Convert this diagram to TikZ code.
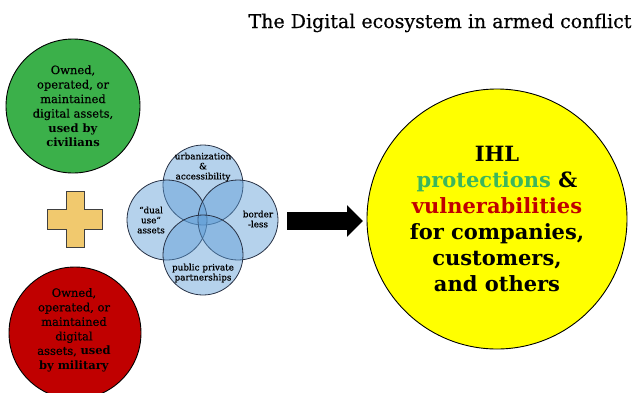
\documentclass[tikz,border=0pt]{standalone}
\usepackage{fontspec}
\setmainfont{DejaVu Serif}[UprightFeatures={FakeBold=0.5}]
\usetikzlibrary{arrows.meta}
\definecolor{civgreen}{RGB}{59,176,74}
\definecolor{milred}{RGB}{192,0,0}
\definecolor{ihlyellow}{RGB}{255,255,0}
\definecolor{plusgold}{RGB}{241,201,110}
\definecolor{vennblue}{RGB}{91,155,213}
\definecolor{venndraw}{RGB}{40,50,70}
\definecolor{protgreen}{RGB}{60,182,92}
\begin{document}
\begin{tikzpicture}[x=1pt,y=-1pt,
  bigdisc/.style={circle, draw=black, line width=0.9pt, inner sep=0pt, align=center},
  vennset/.style={circle, draw=venndraw, line width=0.8pt, fill=vennblue, fill opacity=0.45, draw opacity=1, minimum size=80pt, inner sep=0pt},
  venntext/.style={align=center, font=\fontsize{8.8}{10}\selectfont, inner sep=0pt},
  discfont/.style={font=\fontsize{11.5}{14.5}\selectfont}]
\useasboundingbox (0,0) rectangle (643,392);

% title
\node[font=\fontsize{19}{22}\selectfont, anchor=base] (title) at (440,28) {The Digital ecosystem in armed conflict};

% civilian and military assets
\node[bigdisc, fill=civgreen, minimum size=134pt, discfont] (civ) at (73,106)
  {Owned,\\operated, or\\maintained\\digital assets,\\\textbf{used by}\\\textbf{civilians}};
\node[bigdisc, fill=milred, minimum size=132pt] (mil) at (75,333) {};
\node[discfont, align=center, inner sep=0pt] (miltext) at (74,330)
  {Owned,\\operated, or\\maintained\\digital\\assets, \textbf{used}\\\textbf{by military}};

% plus sign
\node[inner sep=0pt] (plus) at (75,219) {};
\draw[fill=plusgold, draw=black!75, line width=0.8pt]
  (plus) ++(-9,-28) -- ++(18,0) -- ++(0,18) -- ++(18,0) -- ++(0,20) -- ++(-18,0)
  -- ++(0,18) -- ++(-18,0) -- ++(0,-18) -- ++(-19,0) -- ++(0,-20) -- ++(19,0) -- cycle;

% four overlapping features of the ecosystem
\node[vennset] (vtop) at (203,185) {};
\node[vennset] (vleft) at (167,220) {};
\node[vennset] (vright) at (238,220) {};
\node[vennset] (vbot) at (203,255) {};
\node[venntext] (ttop) at (203,167) {urbanization\\\&\\accessibility};
\node[venntext] (tleft) at (151,220) {“dual\\use”\\assets};
\node[venntext] (tright) at (258,219) {border\\-less};
\node[venntext] (tbot) at (203,273) {public private\\partnerships};

% outcome
\node[bigdisc, fill=ihlyellow, minimum size=260pt, font=\bfseries\fontsize{21}{26}\selectfont] (ihl) at (497,219)
  {IHL\\\textcolor{protgreen}{protections} \&\\\textcolor{milred}{vulnerabilities}\\for companies,\\customers,\\and others};

% arrow
\coordinate (astart) at (287,221);
\coordinate (aend) at (363,221);
\draw[line width=18pt, -{Triangle[width=31pt,length=16pt]}] (astart) -- (aend);
\end{tikzpicture}
\end{document}
